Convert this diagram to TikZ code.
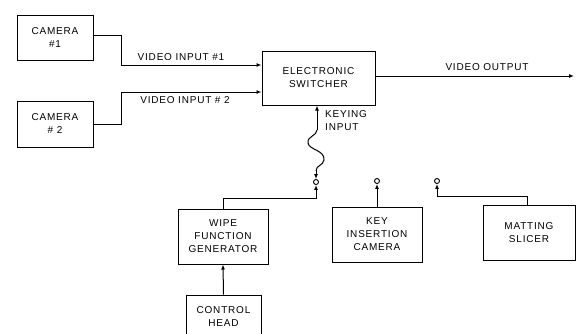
\documentclass[tikz,border=0pt]{standalone}
\usepackage{fontspec}
\setmainfont{Liberation Sans}[LetterSpace=8]
\usetikzlibrary{arrows.meta}
\begin{document}
\begin{tikzpicture}[x=1pt,y=-1pt,
  every node/.style={font=\fontsize{10}{13}\selectfont},
  box/.style={draw, line width=1pt, inner sep=0pt, align=center},
  wire/.style={line width=1pt},
  arr/.style={wire, -{Latex[length=5pt,width=4pt]}},
  term/.style={circle, draw, line width=0.9pt, inner sep=0pt, minimum size=5pt},
  lbl/.style={inner sep=0pt}
]
\clip (0,0) rectangle (576,333);
\fill[white] (0,0) rectangle (576,333);

% boxes
\node[box, minimum width=76pt, minimum height=45pt] (cam1) at (55,37.5) {CAMERA\\\#1};
\node[box, minimum width=76pt, minimum height=46pt] (cam2) at (55,124) {CAMERA\\\# 2};
\node[box, minimum width=113pt, minimum height=54pt] (sw) at (318.5,78) {ELECTRONIC\\SWITCHER};
\node[box, minimum width=90pt, minimum height=55pt] (wipe) at (223,236.5) {WIPE\\FUNCTION\\GENERATOR};
\node[box, minimum width=75pt, minimum height=43pt] (ctrl) at (223.5,316.5) {CONTROL\\HEAD};
\node[box, minimum width=90pt, minimum height=55pt] (key) at (377,234.5) {KEY\\INSERTION\\CAMERA};
\node[box, minimum width=92pt, minimum height=55pt] (mat) at (529,232.5) {MATTING\\SLICER};

% terminals
\node[term] (c1) at (316,182) {};
\node[term] (c2) at (377,181) {};
\node[term] (c3) at (437,181) {};

% video inputs
\draw[arr] ([yshift=2.5pt]cam1.east) -| (121,65) -- ([yshift=13pt]sw.west);
\draw[arr] (cam2.east) -| (121,92) -- ([yshift=-14pt]sw.west);
\node[lbl] (l1) at (181,57) {VIDEO INPUT \#1};
\node[lbl] (l2) at (185,100) {VIDEO INPUT \# 2};

% video output
\coordinate (out) at (574,76);
\draw[arr] ([yshift=2pt]sw.east) -- (out);
\node[lbl] (l3) at (487,67) {VIDEO OUTPUT};

% keying input
\coordinate (k0) at (317,130);
\draw[arr] (k0) -- ([xshift=-1.5pt]sw.south);
\node[lbl, anchor=north west, align=left] (l4) at (325,110) {KEYING\\INPUT};
\draw[wire] (k0) .. controls (317,136) and (307,136) .. (308,143)
  .. controls (309,150) and (325,150) .. (324,160)
  .. controls (323,166) and (316,165) .. (316,171);
\draw[arr] (316,170) -- (c1.north);

% sources to terminals
\draw[arr] (wipe.north) |- ([yshift=-13.5pt]c1.south) -- (c1.south);
\draw[arr] (key.north) -- (c2.south);
\draw[arr] ([xshift=-2pt]mat.north) |- ([yshift=-12.5pt]c3.south) -- (c3.south);
\draw[arr] (ctrl.north) -- (wipe.south);
\end{tikzpicture}
\end{document}
